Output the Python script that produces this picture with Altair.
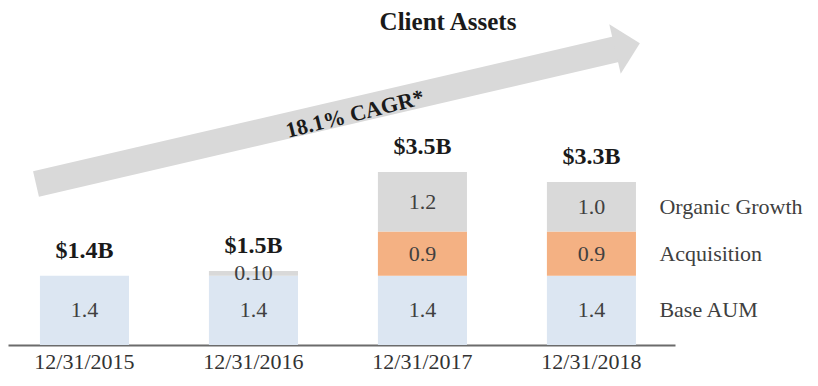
import altair as alt
import pandas as pd

# ---- data ----
dates = ["12/31/2015", "12/31/2016", "12/31/2017", "12/31/2018"]
series = ["Base AUM", "Acquisition", "Organic Growth"]
base_aum = [1.4, 1.4, 1.4, 1.4]
acquisition = [0.0, 0.0, 0.9, 0.9]
organic = [0.0, 0.10, 1.2, 1.0]
base_lbl = ["1.4", "1.4", "1.4", "1.4"]
acq_lbl = ["", "", "0.9", "0.9"]
org_lbl = ["", "0.10", "1.2", "1.0"]
total_lbl = ["$1.4B", "$1.5B", "$3.5B", "$3.3B"]
title_text = "Client Assets"
cagr_text = "18.1% CAGR*"
colors = ["#dce6f2", "#f4b183", "#d9d9d9"]

rows = []
for i, d in enumerate(dates):
    y0 = 0.0
    for s, vals, lbls in zip(series, [base_aum, acquisition, organic],
                             [base_lbl, acq_lbl, org_lbl]):
        v = vals[i]
        if v > 0:
            rows.append(dict(date=d, series=s, y0=y0, y1=y0 + v,
                             mid=y0 + v / 2, label=lbls[i]))
        y0 += v
seg = pd.DataFrame(rows)
tot = pd.DataFrame(dict(date=dates,
                        total=[round(a + b + c, 2) for a, b, c in zip(base_aum, acquisition, organic)],
                        label=total_lbl))
leg = seg[seg["date"] == dates[-1]]
one = pd.DataFrame({"t": [title_text], "c": [cagr_text]})

SERIF = "Liberation Serif"
W, H = 667, 327

xscale = alt.Scale(paddingInner=0.473, paddingOuter=0.21, align=0.45)
yscale = alt.Scale(domain=[0, 6.62], nice=False)
x_enc = alt.X("date:N", sort=dates, scale=xscale,
              axis=alt.Axis(title=None, labelAngle=0, labelFont=SERIF,
                            labelFontSize=22, labelColor="#333333",
                            labelPadding=6, ticks=False, tickSize=0,
                            domainColor="#6b6b6b", domainWidth=2))

# decorative arrow (annotation)
shaft = alt.Chart(one).mark_rule(color="#d9d9d9", strokeWidth=26, strokeCap="butt").encode(
    x=alt.value(28), y=alt.value(166), x2=alt.value(609), y2=alt.value(31))
head = alt.Chart(one).mark_point(shape="M 0 -1 L 1 0 L 0 1 Z", filled=True, opacity=1,
                                 color="#d9d9d9", size=2601, angle=347, strokeWidth=0).encode(
    x=alt.value(607), y=alt.value(31))
cagr = alt.Chart(one).mark_text(font=SERIF, fontSize=22, fontWeight="bold", color="#1a1a1a",
                                angle=346, align="center", baseline="middle").encode(
    x=alt.value(347), y=alt.value(96), text="c:N")
title = alt.Chart(one).mark_text(font=SERIF, fontSize=25, fontWeight="bold", color="#1a1a1a",
                                 align="center", baseline="alphabetic").encode(
    x=alt.value(440), y=alt.value(12), text="t:N")

bars = alt.Chart(seg).mark_bar().encode(
    x=x_enc,
    y=alt.Y("y0:Q", scale=yscale, axis=None),
    y2="y1:Q",
    color=alt.Color("series:N", scale=alt.Scale(domain=series, range=colors), legend=None),
)
seg_text = alt.Chart(seg).mark_text(font=SERIF, fontSize=22, color="#404040",
                                    baseline="middle").encode(
    x=x_enc, y=alt.Y("mid:Q", scale=yscale, axis=None), text="label:N")
tot_text = alt.Chart(tot).mark_text(font=SERIF, fontSize=24, fontWeight="bold",
                                    color="#1a1a1a", baseline="middle", dy=-25).encode(
    x=x_enc, y=alt.Y("total:Q", scale=yscale, axis=None), text="label:N")
leg_text = alt.Chart(leg).mark_text(font=SERIF, fontSize=22, color="#404040",
                                    align="left", baseline="middle", dx=68).encode(
    x=x_enc, y=alt.Y("mid:Q", scale=yscale, axis=None), text="series:N")

chart = alt.layer(shaft, head, cagr, title, bars, seg_text, tot_text, leg_text).properties(
    width=W, height=H,
    padding={"left": 0, "top": 10, "right": 135, "bottom": 33},
    autosize=alt.AutoSizeParams(type="none"),
).configure_view(strokeWidth=0)

chart.save("out.html", embed_options={"renderer": "svg", "actions": False})
